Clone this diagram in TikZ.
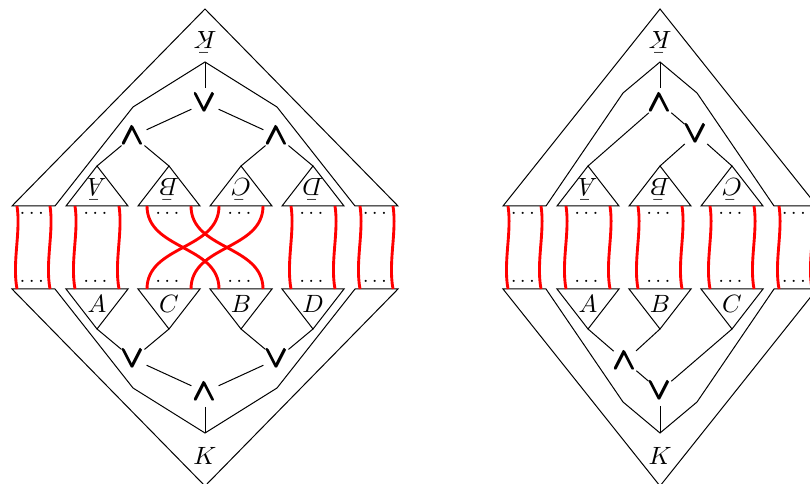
\documentclass[tikz,border=0pt]{standalone}
\usepackage{amsmath,amssymb,amsfonts}
\usepackage{tikz}
\usepackage{xcolor}

\begin{document}
\begin{tikzpicture}[x=0.4pt, y=-0.4pt,
    op/.style={circle, inner sep=0pt, minimum size=11.2pt, font=\large},
    strand/.style={red, line width=1.15pt},
    dotrow/.style={font=\tiny\boldmath, inner sep=1pt}]
\useasboundingbox (0,0) rectangle (810,484);
\clip (0,0) rectangle (810,484);

\draw (12,206) -- (205,9) -- (398,206) -- (355,206) -- (277,107) -- (205,62) coordinate (lin) -- (133,107) -- (55,206) -- cycle;
\draw (12,289) -- (205,486) -- (398,289) -- (355,289) -- (277,388) -- (205,433) coordinate (lout) -- (133,388) -- (55,289) -- cycle;
\node[rotate=180] (lKt) at (205,42) {$\bar{K}$};
\node (lKb) at (205,456) {$K$};
\foreach \x/\n in {97/A, 169/B, 241/C, 313/D} {
    \draw (\x-31,206) -- (\x,166) coordinate (lt\n) -- (\x+31,206) -- cycle;
    \node[rotate=180] (ltl\n) at (\x,189) {$\bar{\n}$};
}
\foreach \x/\n in {97/A, 169/C, 241/B, 313/D} {
    \draw (\x-31,289) -- (\x,329) coordinate (lb\n) -- (\x+31,289) -- cycle;
    \node (lbl\n) at (\x,304) {$\n$};
}
\node[op] (lv) at (205,103) {$\pmb{\boldsymbol{\vee}}$};
\node[op] (lwl) at (133,136) {$\pmb{\boldsymbol{\wedge}}$};
\node[op] (lwr) at (277,136) {$\pmb{\boldsymbol{\wedge}}$};
\draw (lin) -- (lv);
\draw (lv) -- (lwl);
\draw (lv) -- (lwr);
\draw (lwl) -- (ltA);
\draw (lwl) -- (ltB);
\draw (lwr) -- (ltC);
\draw (lwr) -- (ltD);
\node[op] (lvl) at (133,359) {$\pmb{\boldsymbol{\vee}}$};
\node[op] (lvr) at (277,359) {$\pmb{\boldsymbol{\vee}}$};
\node[op] (lw) at (205,392) {$\pmb{\boldsymbol{\wedge}}$};
\draw (lbA) -- (lvl);
\draw (lbC) -- (lvl);
\draw (lbB) -- (lvr);
\draw (lbD) -- (lvr);
\draw (lvl) -- (lw);
\draw (lvr) -- (lw);
\draw (lw) -- (lout);
\foreach \x in {17, 50, 75, 119, 291, 335, 360, 393}
    \draw[strand] (\x,206) .. controls (\x+4,232) and (\x-5,262) .. (\x,289);
\draw[strand] (147,206) .. controls (147,250) and (219,245) .. (219,289);
\draw[strand] (191,206) .. controls (191,250) and (263,245) .. (263,289);
\draw[strand] (219,206) .. controls (219,250) and (147,245) .. (147,289);
\draw[strand] (263,206) .. controls (263,250) and (191,245) .. (191,289);
\foreach \x [count=\i] in {33.5, 97, 169, 241, 313, 376.5} {
    \node[dotrow] (ldt\i) at (\x,213) {$\cdots$};
    \node[dotrow] (ldb\i) at (\x,281) {$\cdots$};
}

\draw (503,206) -- (660,9) -- (817,206) -- (774,206) -- (697,93) -- (660,62) coordinate (rin) -- (623,93) -- (546,206) -- cycle;
\draw (503,289) -- (660,486) -- (817,289) -- (774,289) -- (697,402) -- (660,433) coordinate (rout) -- (623,402) -- (546,289) -- cycle;
\node[rotate=180] (rKt) at (660,42) {$\bar{K}$};
\node (rKb) at (660,456) {$K$};
\foreach \x/\n in {588/A, 660/B, 732/C} {
    \draw (\x-31,206) -- (\x,166) coordinate (rt\n) -- (\x+31,206) -- cycle;
    \node[rotate=180] (rtl\n) at (\x,189) {$\bar{\n}$};
    \draw (\x-31,289) -- (\x,329) coordinate (rb\n) -- (\x+31,289) -- cycle;
    \node (rbl\n) at (\x,304) {$\n$};
}
\node[op] (rw) at (660,103) {$\pmb{\boldsymbol{\wedge}}$};
\node[op] (rv) at (696,134) {$\pmb{\boldsymbol{\vee}}$};
\draw (rin) -- (rw);
\draw (rw) -- (rtA);
\draw (rw) -- (rv);
\draw (rv) -- (rtB);
\draw (rv) -- (rtC);
\node[op] (rwb) at (625,361) {$\pmb{\boldsymbol{\wedge}}$};
\node[op] (rvb) at (660,391) {$\pmb{\boldsymbol{\vee}}$};
\draw (rbA) -- (rwb);
\draw (rbB) -- (rwb);
\draw (rwb) -- (rvb);
\draw (rvb) -- (rbC);
\draw (rvb) -- (rout);
\foreach \x in {508, 541, 566, 610, 638, 682, 710, 754, 779, 812}
    \draw[strand] (\x,206) .. controls (\x+4,232) and (\x-5,262) .. (\x,289);
\foreach \x [count=\i] in {524.5, 588, 660, 732, 795.5} {
    \node[dotrow] (rdt\i) at (\x,213) {$\cdots$};
    \node[dotrow] (rdb\i) at (\x,281) {$\cdots$};
}
\end{tikzpicture}
\end{document}
